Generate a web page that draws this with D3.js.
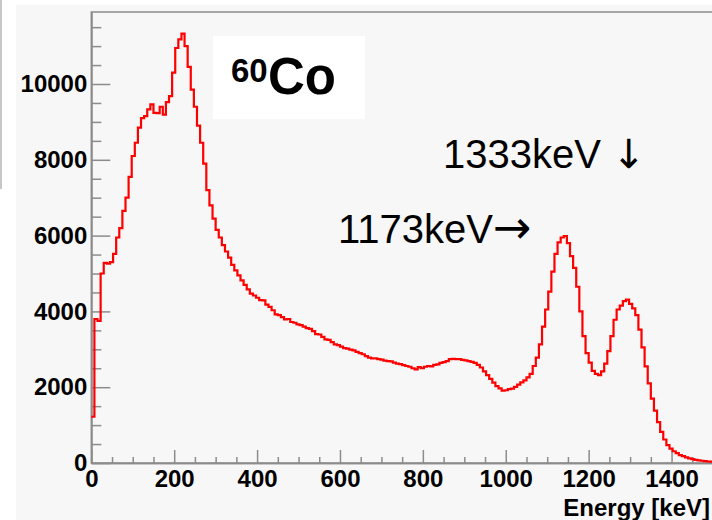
<!DOCTYPE html>
<html>
<head>
<meta charset="utf-8">
<script src="https://cdn.jsdelivr.net/npm/d3@7"></script>
<style>
  body { margin: 0; background: #fff; }
  svg { display: block; font-family: "Liberation Sans", Arial, sans-serif; }
</style>
</head>
<body>
<div id="container"></div>
<script>
/* DATA */
// histogram of the 60Co spectrum, 200 bins of 7.5 keV from 0 keV
const binStart = 0;
const binWidth = 7.5;
const counts = [
  1220, 3800, 3750, 5000, 5280, 5260, 5300, 5520, 5950, 6200,
  6650, 7000, 7550, 8100, 8450, 8850, 9100, 9150, 9330, 9460,
  9240, 9230, 9400, 9190, 9520, 9680, 10300, 10950, 11180, 11330,
  11000, 10450, 9850, 9400, 8900, 8450, 7900, 7200, 6800, 6450,
  6150, 5950, 5750, 5580, 5420, 5230, 5080, 4950, 4820, 4700,
  4580, 4470, 4420, 4360, 4300, 4290, 4180, 4120, 4030, 3920,
  3900, 3850, 3790, 3800, 3720, 3700, 3660, 3640, 3600, 3560,
  3540, 3480, 3400, 3390, 3330, 3260, 3250, 3190, 3130, 3110,
  3070, 3030, 3020, 2990, 2970, 2930, 2900, 2870, 2820, 2780,
  2760, 2760, 2740, 2730, 2700, 2690, 2680, 2650, 2620, 2610,
  2580, 2560, 2540, 2500, 2470, 2530, 2500, 2540, 2560, 2550,
  2590, 2600, 2640, 2660, 2690, 2740, 2750, 2740, 2740, 2720,
  2710, 2690, 2670, 2640, 2590, 2520, 2420, 2320, 2220, 2120,
  2030, 1970, 1910, 1920, 1950, 1960, 2010, 2070, 2130, 2180,
  2260, 2350, 2560, 2780, 3130, 3600, 4050, 4520, 5050, 5520,
  5820, 5950, 5990, 5800, 5460, 5150, 4650, 4000, 3350, 2900,
  2650, 2430, 2350, 2320, 2420, 2620, 2950, 3350, 3780, 4050,
  4150, 4270, 4310, 4200, 4080, 3900, 3520, 3050, 2550, 2100,
  1700, 1380, 1080, 820, 620, 470, 380, 310, 260, 210,
  180, 150, 120, 100, 85, 70, 60, 50, 40, 35
];
const xTicks = [0, 200, 400, 600, 800, 1000, 1200, 1400];
const yTicks = [0, 2000, 4000, 6000, 8000, 10000];
const xMinorStep = 50;
const yMinorStep = 500;
const xMax = 1500;
const yMax = 11900;
const xTitle = "Energy [keV]";

/* CONSTANTS */
const width = 712;
const height = 520;
const margin = { left: 91.3, right: -1, top: 12, bottom: 57 };
const axisColor = "#8c8c8c";

const svg = d3.select("#container")
  .append("svg")
  .attr("width", width)
  .attr("height", height);

// pad background and the thin line at the far left
svg.append("rect")
  .attr("x", 16).attr("y", 5)
  .attr("width", width - 16).attr("height", height - 5)
  .attr("fill", "#f7f7f7");
svg.append("line")
  .attr("x1", 1).attr("x2", 1)
  .attr("y1", 0).attr("y2", 189)
  .attr("stroke", "#b4b4b4")
  .attr("stroke-width", 1.5);

/* SCALES */
const xScale = d3.scaleLinear()
  .domain([0, xMax])
  .range([margin.left, width - margin.right]);

const yScale = d3.scaleLinear()
  .domain([0, yMax])
  .range([height - margin.bottom, margin.top]);

// frame
svg.append("rect")
  .attr("x", xScale(0))
  .attr("y", yScale(yMax))
  .attr("width", xScale(xMax) - xScale(0))
  .attr("height", yScale(0) - yScale(yMax))
  .attr("fill", "none")
  .attr("stroke", axisColor)
  .attr("stroke-width", 1.5);

/* AXES */
const xMinor = d3.range(0, xMax + 1, xMinorStep).filter(v => !xTicks.includes(v));
const yMinor = d3.range(0, yMax, yMinorStep).filter(v => !yTicks.includes(v));

const styleAxis = g => {
  g.select(".domain").attr("stroke", axisColor).attr("stroke-width", 1.5);
  g.selectAll(".tick line").attr("stroke", axisColor).attr("stroke-width", 1.5);
  g.selectAll(".tick text")
    .attr("fill", "#000")
    .attr("font-size", 24)
    .attr("font-weight", "bold");
};

svg.append("g")
  .attr("transform", `translate(0, ${yScale(0)})`)
  .call(d3.axisBottom(xScale).tickValues(xMinor).tickSize(-6).tickSizeOuter(0).tickFormat(""))
  .call(styleAxis);

svg.append("g")
  .attr("transform", `translate(0, ${yScale(0)})`)
  .call(d3.axisBottom(xScale).tickValues(xTicks).tickSize(-13).tickSizeOuter(0).tickPadding(7).tickFormat(d3.format("d")))
  .call(styleAxis);

svg.append("g")
  .attr("transform", `translate(${xScale(0)}, 0)`)
  .call(d3.axisLeft(yScale).tickValues(yMinor).tickSize(-10).tickSizeOuter(0).tickFormat(""))
  .call(styleAxis);

svg.append("g")
  .attr("transform", `translate(${xScale(0)}, 0)`)
  .call(d3.axisLeft(yScale).tickValues(yTicks).tickSize(-19).tickSizeOuter(0).tickPadding(4).tickFormat(d3.format("d")))
  .call(styleAxis);

svg.append("text")
  .attr("x", 710)
  .attr("y", 516)
  .attr("text-anchor", "end")
  .attr("font-size", 24)
  .attr("font-weight", "bold")
  .text(xTitle);

/* HISTOGRAM */
const steps = counts.map((c, i) => [binStart + i * binWidth, c]);
steps.push([binStart + counts.length * binWidth, counts[counts.length - 1]]);

const lineGen = d3.line()
  .curve(d3.curveStepAfter)
  .x(d => xScale(d[0]))
  .y(d => yScale(d[1]));

svg.append("path")
  .datum(steps)
  .attr("fill", "none")
  .attr("stroke", "#ff0000")
  .attr("stroke-width", 2.2)
  .attr("d", lineGen);

/* LABELS */
svg.append("rect")
  .attr("x", 213).attr("y", 36)
  .attr("width", 152).attr("height", 83)
  .attr("fill", "#fff");

svg.append("text")
  .attr("x", 231).attr("y", 82)
  .attr("font-size", 33)
  .attr("font-weight", "bold")
  .text("60");

svg.append("text")
  .attr("x", 268).attr("y", 94)
  .attr("font-size", 51)
  .attr("font-weight", "bold")
  .text("Co");

const peak2 = svg.append("text")
  .attr("x", 443).attr("y", 168)
  .attr("font-size", 40);
peak2.append("tspan").text("1333keV ");
peak2.append("tspan").attr("font-family", "DejaVu Sans").attr("font-size", 40).text("\u2193");

const peak1 = svg.append("text")
  .attr("x", 338).attr("y", 243)
  .attr("font-size", 40);
peak1.append("tspan").text("1173keV");
peak1.append("tspan").attr("font-family", "DejaVu Sans").attr("font-size", 46).text("\u2192");
</script>
</body>
</html>
